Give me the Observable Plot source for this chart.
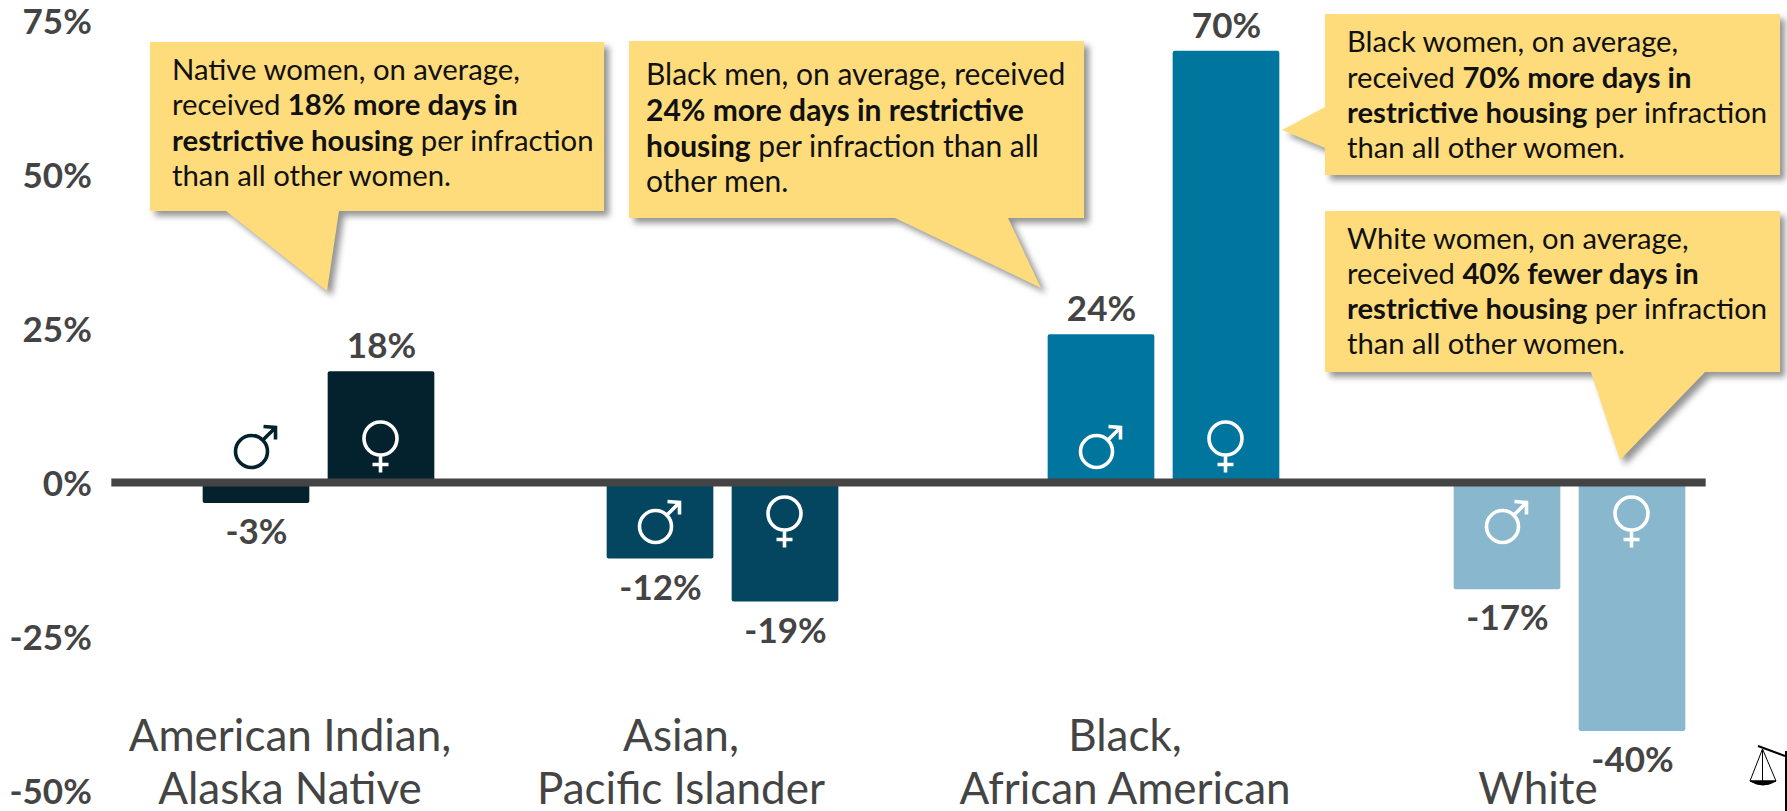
<!DOCTYPE html>
<html><head><meta charset="utf-8">
<script src="https://cdn.jsdelivr.net/npm/d3@7"></script>
<script src="https://cdn.jsdelivr.net/npm/@observablehq/plot@0.6"></script>
<style>
html,body{margin:0;padding:0;background:#fff;overflow:hidden}
svg{display:block}
</style></head><body><div id="chart"></div>
<script>
// ---- data ----
const groups = ["American Indian,\nAlaska Native", "Asian,\nPacific Islander", "Black,\nAfrican American", "White"];
const menValues = [-3, -12, 24, -17];
const womenValues = [18, -19, 70, -40];
const yTicks = [-50, -25, 0, 25, 50, 75];
const groupColors = ["#03222e", "#04455f", "#00759e", "#89b8ce"];

// ---- layout (non-uniform spacing of the original groups) ----
const groupNudge = [0, -13, 11, 0];
const labelNudge = [-29, -55, -28, -32];
const W = 1787, H = 811;
const bandStep = 417.33;
const barOuter = 116, barInner = 9;
const FONT = "Lato, sans-serif";
const INK = "#444444";

// ---- callouts ----
const calloutText = [
  ["Native women, on average,", "received **18% more days in**", "**restrictive housing** per infraction", "than all other women."],
  ["Black men, on average, received", "**24% more days in restrictive**", "**housing** per infraction than all", "other men."],
  ["Black women, on average,", "received **70% more days in**", "**restrictive housing** per infraction", "than all other women."],
  ["White women, on average,", "received **40% fewer days in**", "**restrictive housing** per infraction", "than all other women."]
];
const calloutShapes = [
  {pts:[[150,42],[604,42],[604,211],[339,211],[327,291],[226,211],[150,211]], tx:172, by:[80,115,151,186], fs:29.3},
  {pts:[[629,41],[1084,41],[1084,218],[1008,218],[1041,288],[895,218],[629,218]], tx:646, by:[84.5,120.5,156.5,191.5], fs:30},
  {pts:[[1325,14],[1780,14],[1780,175],[1325,175],[1325,148],[1282,130],[1325,107]], tx:1347, by:[52,88,123,158], fs:29.2},
  {pts:[[1325,211],[1780,211],[1780,372],[1705,372],[1620,460],[1591,372],[1325,372]], tx:1347, by:[249,284,319,354], fs:29.2}
];

function calloutMark() {
  const g = d3.create("svg:g");
  calloutShapes.forEach((s) => {
    g.append("polygon").attr("points", s.pts.map(p => p.join(",")).join(" "))
      .attr("fill", "#fedc7b")
      .style("filter", "drop-shadow(5px 5px 3px rgba(60,60,60,.55))");
  });
  calloutShapes.forEach((s, i) => {
    calloutText[i].forEach((line, j) => {
      const t = g.append("text").attr("x", s.tx).attr("y", s.by[j])
        .attr("text-anchor", "start")
        .attr("font-family", FONT).attr("font-size", s.fs).attr("fill", "#111");
      line.split("**").forEach((seg, k) => {
        if (seg) t.append("tspan").attr("font-weight", k % 2 ? 700 : 400).text(seg);
      });
    });
  });
  return g.node();
}

function scaleIcon() {
  const g = d3.create("svg:g").attr("fill", "none").attr("stroke", "#000");
  g.append("path").attr("d", "M1758,746L1785,756M1786,751V811").attr("stroke-width", 2);
  g.append("path").attr("d", "M1762.5,749L1750,781M1762.5,749L1776,781M1762.5,749V781M1750,781H1776").attr("stroke-width", 1);
  g.append("path").attr("d", "M1750,781Q1763,789 1776,781Z").attr("fill", "#000").attr("stroke-width", 1);
  return g.node();
}

// ---- gender symbols ----
const symbolMale = {draw(c) {
  const cx = -3, cy = 4, r = 16;
  c.moveTo(cx + r, cy); c.arc(cx, cy, r, 0, 2 * Math.PI);
  c.moveTo(cx + r * .7, cy - r * .7); c.lineTo(21, -20);
  c.moveTo(9, -21); c.lineTo(21, -20); c.lineTo(21, -8);
}};
const symbolFemale = {draw(c) {
  const cy = -9, r = 16.5;
  c.moveTo(r, cy); c.arc(0, cy, r, 0, 2 * Math.PI);
  c.moveTo(0, cy + r); c.lineTo(0, 25);
  c.moveTo(-8, 17); c.lineTo(8, 17);
}};

// ---- marks ----
const rows = groups.map((group, i) => ({group, i, men: menValues[i], women: womenValues[i], color: groupColors[i]}));
const pct = d => d + "%";
const marks = [];

rows.forEach(r => {
  const half = bandStep / 2;
  const nudge = groupNudge[r.i];
  [["men", symbolMale, -1], ["women", symbolFemale, 1]].forEach(([key, sym, side]) => {
    const v = r[key];
    const insetL = side < 0 ? half - barOuter : half + barInner;
    const insetR = side < 0 ? half + barInner : half - barOuter;
    const centerDx = nudge + side * (barOuter + barInner) / 2;
    marks.push(Plot.barY([r], {
      x: "group", y: key, fill: "color", rx: 2,
      insetLeft: insetL, insetRight: insetR, dx: nudge,
      insetBottom: v < 0 ? -2.5 : 0
    }));
    marks.push(Plot.text([r], {
      x: "group", y: key, text: d => pct(d[key]), dx: centerDx,
      dy: v > 0 ? -25 : 32, fontFamily: FONT, fontSize: 35, fontWeight: 700, fill: INK,
      lineAnchor: "middle"
    }));
    const inBar = Math.abs(v) > 5;
    const up = v > 0 || !inBar;
    marks.push(Plot.dot([r], {
      x: "group", y: () => 0, symbol: () => sym, r: 10, fill: "none",
      stroke: inBar ? "#fff" : r.color, strokeWidth: 3.6,
      dx: centerDx + (key === "men" ? -2 : -1), dy: up ? -35 : 40
    }));
  });
  marks.push(Plot.text([r], {
    x: "group", text: "group", frameAnchor: "bottom", dx: labelNudge[r.i], dy: -8,
    lineAnchor: "bottom", lineHeight: 1.2, fontFamily: FONT, fontSize: 44, fill: INK
  }));
});

const chart = Plot.plot({
  width: W, height: H,
  marginLeft: 109.33, marginRight: 8.33, marginTop: 0, marginBottom: 0,
  style: {background: "#fff", overflow: "hidden"},
  x: {domain: groups, type: "band", padding: 0, axis: null},
  y: {domain: [-53.41, 78.25], range: [H, 0], axis: null},
  symbol: {type: "identity"},
  marks: [
    ...marks,
    Plot.ruleY([0], {stroke: INK, strokeWidth: 8, insetLeft: 2, insetRight: 73}),
    Plot.axisY({
      ticks: yTicks, tickSize: 0, tickPadding: 18, tickFormat: pct, label: null, dy: 2,
      fontFamily: FONT, fontSize: 35, fontWeight: 700, color: INK
    }),
    calloutMark,
    scaleIcon
  ]
});
document.getElementById("chart").appendChild(chart);
</script></body></html>
